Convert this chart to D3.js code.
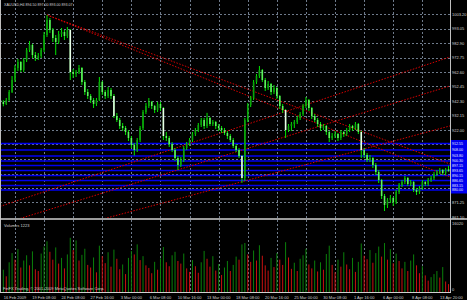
<!DOCTYPE html>
<html>
<head>
<meta charset="utf-8">
<script src="https://cdn.jsdelivr.net/npm/d3@7"></script>
<style>
  body { margin: 0; background: #000; }
  svg { display: block; }
  text { font-family: "Liberation Sans", Arial, sans-serif; }
</style>
</head>
<body>
<div id="chart"></div>
<script>
// XAUUSD H4, 16 Feb - 15 Apr 2009
var title = "XAUUSD,H4  894.50 897.00 893.00 893.07";

// one row per H4 bar: open, high, low, close
var ohlc = [
  [943.0,944.5,940.0,941.6],[941.6,942.8,938.6,940.2],[940.2,944.4,939.5,943.0],[943.0,950.0,942.2,948.6],
  [948.6,959.8,947.9,957.0],[957.0,967.5,955.6,965.4],[965.4,971.7,963.3,969.6],[969.6,970.3,962.6,964.0],
  [964.0,972.4,962.6,971.0],[971.0,979.4,969.6,978.0],[978.0,984.3,976.6,981.5],[981.5,982.2,972.4,974.5],
  [974.5,976.6,970.3,972.4],[972.4,975.9,971.0,973.8],[973.8,979.4,972.4,978.0],[978.0,990.6,976.6,988.5],
  [988.5,1002.5,987.1,999.0],[999.0,1000.4,989.9,992.0],[992.0,993.4,983.6,986.4],[986.4,988.5,974.5,983.6],
  [983.6,991.3,982.2,989.2],[989.2,993.4,987.1,990.6],[990.6,992.0,985.0,987.8],[987.8,994.1,986.4,992.0],
  [992.0,992.7,957.0,962.6],[962.6,964.7,958.4,961.2],[961.2,964.0,959.1,962.6],[962.6,967.5,961.2,965.4],
  [965.4,966.1,953.5,955.6],[955.6,957.0,946.5,948.6],[948.6,950.7,943.7,945.8],[945.8,947.2,940.9,943.0],
  [943.0,944.4,937.4,940.2],[940.2,944.4,938.8,943.0],[943.0,959.1,942.3,955.6],[955.6,956.3,946.5,948.6],
  [948.6,950.0,943.7,945.8],[945.8,952.1,944.4,950.0],[950.0,951.4,943.7,945.8],[945.8,947.2,930.4,931.8],
  [931.8,933.9,927.6,929.0],[929.0,930.4,922.7,924.8],[924.8,926.9,921.3,923.4],[923.4,924.8,918.5,920.6],
  [920.6,922.0,914.3,916.4],[916.4,917.8,909.4,911.5],[911.5,912.9,904.1,908.0],[908.0,916.4,906.6,915.0],
  [915.0,924.8,913.6,923.4],[923.4,936.0,922.0,934.6],[934.6,940.9,933.2,938.8],[938.8,944.4,937.4,941.6],
  [941.6,942.3,936.7,938.8],[938.8,939.5,933.9,936.0],[936.0,941.6,934.6,940.2],[940.2,941.6,935.3,937.4],
  [937.4,938.1,915.0,917.8],[917.8,920.6,914.3,916.4],[916.4,917.8,910.1,912.2],[912.2,913.6,906.6,908.0],
  [908.0,909.4,900.3,902.4],[902.4,903.8,894.0,897.5],[897.5,903.1,896.1,901.0],[901.0,910.8,899.6,909.4],
  [909.4,913.6,908.0,912.2],[912.2,916.4,910.8,915.0],[915.0,920.6,913.6,919.2],[919.2,923.4,917.8,922.0],
  [922.0,926.9,920.6,925.5],[925.5,930.4,924.1,929.0],[929.0,930.4,922.7,924.8],[924.8,934.0,923.4,930.4],
  [930.4,931.1,924.8,926.2],[926.2,929.0,924.8,927.6],[927.6,928.3,922.7,924.8],[924.8,926.2,921.3,923.4],
  [923.4,924.8,919.9,922.0],[922.0,923.4,918.5,919.9],[919.9,921.3,915.7,917.8],[917.8,919.2,913.6,915.0],
  [915.0,916.4,909.4,910.8],[910.8,912.2,906.6,908.0],[908.0,909.4,902.4,903.8],[903.8,904.5,885.0,888.4],
  [888.4,930.4,886.3,929.0],[929.0,940.9,927.6,939.5],[939.5,945.8,938.1,944.4],[944.4,957.0,943.0,955.6],
  [955.6,961.2,954.2,959.8],[959.8,966.8,958.4,964.0],[964.0,964.7,955.6,957.0],[957.0,958.4,949.3,951.4],
  [951.4,956.3,950.0,954.2],[954.2,954.9,946.5,948.6],[948.6,953.5,947.2,951.4],[951.4,952.1,943.7,945.8],
  [945.8,946.5,936.7,938.8],[938.8,940.2,933.9,936.0],[936.0,936.7,916.4,922.0],[922.0,926.2,920.6,924.8],
  [924.8,927.6,921.3,926.2],[926.2,929.0,923.4,927.6],[927.6,931.8,926.2,930.4],[930.4,934.6,929.0,933.2],
  [933.2,940.2,931.8,938.8],[938.8,945.1,937.4,943.0],[943.0,943.7,935.3,937.4],[937.4,938.1,929.7,931.8],
  [931.8,933.2,927.6,929.0],[929.0,930.4,924.1,926.2],[926.2,927.6,921.3,923.4],[923.4,926.2,922.0,924.8],
  [924.8,925.5,918.5,920.6],[920.6,921.3,913.6,916.4],[916.4,919.9,915.0,917.8],[917.8,921.3,916.4,919.2],
  [919.2,919.9,914.3,916.4],[916.4,922.0,915.0,920.6],[920.6,921.3,917.1,919.2],[919.2,923.4,917.8,922.0],
  [922.0,926.2,920.6,924.8],[924.8,925.5,921.3,923.4],[923.4,927.6,922.0,926.2],[926.2,926.9,919.2,920.6],
  [920.6,921.3,902.4,908.0],[908.0,909.4,902.4,904.5],[904.5,905.9,899.6,901.0],[901.0,904.5,899.6,902.4],
  [902.4,903.1,895.4,897.5],[897.5,898.9,890.5,892.6],[892.6,894.0,884.9,887.0],[887.0,887.7,873.7,875.8],
  [875.8,877.2,865.3,869.5],[869.5,874.4,867.4,873.0],[873.0,876.5,870.9,874.4],[874.4,875.1,868.8,871.6],
  [871.6,880.0,870.2,878.6],[878.6,884.9,877.2,883.5],[883.5,887.0,882.1,885.6],[885.6,889.8,884.2,888.4],
  [888.4,889.1,882.8,884.2],[884.2,887.0,882.8,885.6],[885.6,886.3,878.6,880.0],[880.0,881.4,876.5,878.6],
  [878.6,882.8,877.2,881.4],[881.4,887.0,880.0,885.6],[885.6,886.3,882.8,884.2],[884.2,888.4,882.8,887.0],
  [887.0,889.8,885.6,888.4],[888.4,892.6,887.0,891.2],[891.2,894.0,889.8,892.6],[892.6,895.4,891.2,894.0],
  [894.0,894.7,890.5,891.9],[891.9,895.4,890.5,894.5],[894.5,897.0,893.0,893.07]
];

// tick volume per bar
var volumes = [
  4200,5100,3600,6800,8900,7400,9800,5600,7200,8400,
  6100,9300,5200,4800,8800,10400,11600,9200,7400,10200,
  6500,7800,5400,8600,12400,9600,11800,7200,8500,9900,
  6200,5600,7900,4500,10600,8200,6600,9100,5800,9700,
  7600,5200,6300,4100,7800,9400,8600,10900,7300,8200,
  6100,5500,4300,6900,5100,7700,10300,6800,5900,8400,
  9200,7100,6500,8800,5400,4600,7300,5900,4400,6800,
  9400,7600,5800,8200,4900,6400,3900,5600,7100,4800,
  6200,8100,7400,10900,11200,8600,6900,9500,7200,10700,
  8300,6100,4900,7800,5700,8900,7400,6200,11400,7900,
  5300,6700,4800,7600,8400,9900,6300,5400,7200,4700,
  6800,5100,8700,10600,6200,4500,7400,5800,9100,6300,
  5200,7800,4600,6900,11100,8300,7500,9600,6700,8900,
  10400,8100,11200,7400,9800,6600,8800,7100,5400,6900,
  4800,7200,8600,6100,4300,5900,3800,2600,3400,4100,
  4800,3300,5700,2400,1800
];
var volumeTitle = "Volumes 1223";
var volumeMax = 16020;

// right price scale labels
var priceTicks = [1003.20, 993.05, 982.90, 972.75, 962.60, 952.45, 942.30, 932.15,
                  922.00, 911.85, 901.70, 891.55, 881.40, 871.25, 861.10];

// bottom time labels, one every 10 bars starting at bar 5
var timeLabels = ["16 Feb 2009", "19 Feb 08:00", "24 Feb 08:00", "27 Feb 16:00", "3 Mar 00:00",
                  "6 Mar 08:00", "10 Mar 16:00", "13 Mar 00:00", "18 Mar 08:00", "20 Mar 16:00",
                  "25 Mar 00:00", "30 Mar 08:00", "1 Apr 16:00", "6 Apr 00:00", "8 Apr 08:00",
                  "13 Apr 20:00"];

// blue horizontal levels
var levels = [912.55, 908.00, 903.80, 900.30, 897.15, 893.65, 890.15, 886.65, 883.15, 880.00];

// red trend lines: two anchors [bar, price]; ray = starts at first anchor
var trendLines = [
  { a: [16, 1002.5], b: [82, 952.8], ray: true },
  { a: [16, 1002.5], b: [82, 948.5], ray: true },
  { a: [68, 914.6], b: [150, 970.1], ray: false },
  { a: [68, 898.5], b: [150, 950.0], ray: false },
  { a: [68, 877.6], b: [150, 922.4], ray: false }
];

var copyright = "FinFX Trading, \u00a9 2001-2009 MetaQuotes Software Corp.";

// ---- layout
var W = 467, H = 300, axisX = 450;
var priceTop = 0, priceBottom = 218, volTop = 222, volBottom = 292;
var gridColor = "#6f7b8c", textColor = "#d4d4d4";

var svg = d3.select("#chart").append("svg")
    .attr("width", W).attr("height", H)
    .style("background", "#000");

var x = d3.scaleLinear().domain([-0.15, 154.5]).range([0, axisX]);
var y = d3.scaleLinear().domain([860.4, 1011.6]).range([priceBottom, 2]);
var yv = d3.scaleLinear().domain([0, volumeMax]).range([volBottom, volTop]);

svg.append("clipPath").attr("id", "pclip")
  .append("rect").attr("x", 0).attr("y", priceTop).attr("width", axisX).attr("height", priceBottom - priceTop);

// horizontal grid
svg.append("g").selectAll("line")
  .data(priceTicks.filter(function(d) { return y(d) < priceBottom - 2; }))
  .enter().append("line")
  .attr("x1", 0).attr("x2", axisX)
  .attr("y1", function(d) { return Math.round(y(d)) + 0.5; })
  .attr("y2", function(d) { return Math.round(y(d)) + 0.5; })
  .attr("stroke", gridColor).attr("stroke-dasharray", "2,2");

// vertical grid (price + volume panes)
var gridBars = timeLabels.map(function(d, i) { return 5 + i * 10; });
var vg = svg.append("g");
gridBars.filter(function(b) { return x(b) < axisX - 2; }).forEach(function(b) {
  var gx = Math.round(x(b)) + 0.5;
  vg.append("line").attr("x1", gx).attr("x2", gx).attr("y1", priceTop).attr("y2", priceBottom)
    .attr("stroke", gridColor).attr("stroke-dasharray", "2,2");
  vg.append("line").attr("x1", gx).attr("x2", gx).attr("y1", volTop - 2).attr("y2", volBottom)
    .attr("stroke", gridColor).attr("stroke-dasharray", "2,2");
});

// blue levels
svg.append("g").selectAll("line")
  .data(levels).enter().append("line")
  .attr("x1", 0).attr("x2", axisX)
  .attr("y1", function(d) { return y(d); }).attr("y2", function(d) { return y(d); })
  .attr("stroke", "#0000f0").attr("stroke-width", 1.6);

// trend lines
var tl = svg.append("g").attr("clip-path", "url(#pclip)");
trendLines.forEach(function(t) {
  var slope = (t.b[1] - t.a[1]) / (t.b[0] - t.a[0]);
  var i0 = t.ray ? t.a[0] : x.invert(0);
  var i1 = x.invert(axisX);
  tl.append("line")
    .attr("x1", x(i0)).attr("y1", y(t.a[1] + slope * (i0 - t.a[0])))
    .attr("x2", x(i1)).attr("y2", y(t.a[1] + slope * (i1 - t.a[0])))
    .attr("stroke", "#d80000").attr("stroke-width", 1)
    .attr("stroke-dasharray", "1.5,1.5");
});

// candles
var candles = svg.append("g").attr("clip-path", "url(#pclip)")
  .selectAll("g").data(ohlc).enter().append("g");
candles.append("line")
  .attr("x1", function(d, i) { return x(i); }).attr("x2", function(d, i) { return x(i); })
  .attr("y1", function(d) { return y(d[1]); }).attr("y2", function(d) { return y(d[2]); })
  .attr("stroke", "#00e600").attr("stroke-width", 1);
candles.append("rect")
  .attr("x", function(d, i) { return x(i) - 0.8; })
  .attr("width", 1.6)
  .attr("y", function(d) { return y(Math.max(d[0], d[3])); })
  .attr("height", function(d) { return Math.max(0.8, Math.abs(y(d[0]) - y(d[3]))); })
  .attr("fill", function(d) {
    if (d[3] >= d[0]) return "#0aa60a";
    return (d[0] - d[3]) > 12 ? "#e8ffe8" : "#5cf25c";
  });

// volumes
svg.append("g").selectAll("line")
  .data(volumes).enter().append("line")
  .attr("x1", function(d, i) { return x(i); }).attr("x2", function(d, i) { return x(i); })
  .attr("y1", yv(0)).attr("y2", function(d) { return yv(d); })
  .attr("stroke", function(d, i) { return i > 0 && d < volumes[i - 1] ? "#c81010" : "#0a800a"; })
  .attr("stroke-width", 1);

// frame
svg.append("line").attr("x1", 0.5).attr("x2", 0.5).attr("y1", 0).attr("y2", volBottom)
  .attr("stroke", "#bfbfbf");
svg.append("line").attr("x1", axisX + 0.5).attr("x2", axisX + 0.5).attr("y1", 0).attr("y2", volBottom)
  .attr("stroke", "#bfbfbf");
svg.append("line").attr("x1", 0).attr("x2", W).attr("y1", priceBottom + 1).attr("y2", priceBottom + 1)
  .attr("stroke", "#cfcfcf").attr("stroke-width", 1.3);
svg.append("line").attr("x1", 0).attr("x2", axisX + 1).attr("y1", volBottom + 0.5).attr("y2", volBottom + 0.5)
  .attr("stroke", "#cfcfcf");

// price labels (those under the blue level boxes are hidden in the reference)
var levelTop = y(d3.max(levels)) - 4, levelBottom = y(d3.min(levels)) + 4;
svg.append("g").selectAll("text")
  .data(priceTicks.filter(function(d) { return y(d) < levelTop || y(d) > levelBottom; }))
  .enter().append("text")
  .attr("x", axisX + 2).attr("y", function(d) { return y(d) + 1.5; })
  .attr("font-size", 4).attr("fill", textColor)
  .text(function(d) { return d.toFixed(2); });

// level labels on the axis
var lv = svg.append("g");
levels.forEach(function(d) {
  lv.append("rect").attr("x", axisX + 1).attr("y", y(d) - 3.5).attr("width", W - axisX - 1).attr("height", 7)
    .attr("fill", "#0000f0");
});
levels.forEach(function(d) {
  lv.append("text").attr("x", axisX + 2).attr("y", y(d) + 1.3)
    .attr("font-size", 3.6).attr("fill", "#e8e8ff").text(d.toFixed(2));
});

// time labels
svg.append("g").selectAll("text")
  .data(timeLabels).enter().append("text")
  .attr("x", function(d, i) { return x(gridBars[i]); }).attr("y", 299)
  .attr("text-anchor", "middle")
  .attr("font-size", 4).attr("fill", textColor)
  .text(function(d) { return d; });

// texts
svg.append("text").attr("x", 4).attr("y", 6).attr("font-size", 3.6).attr("fill", textColor).text(title);
svg.append("text").attr("x", 4).attr("y", 226.5).attr("font-size", 4).attr("fill", textColor).text(volumeTitle);
svg.append("text").attr("x", axisX + 2).attr("y", 225).attr("font-size", 4).attr("fill", textColor).text(volumeMax);
svg.append("text").attr("x", axisX + 2).attr("y", 291).attr("font-size", 4).attr("fill", textColor).text("0");
svg.append("text").attr("x", 3).attr("y", 289.5).attr("font-size", 4).attr("fill", textColor).text(copyright);
</script>
</body>
</html>
